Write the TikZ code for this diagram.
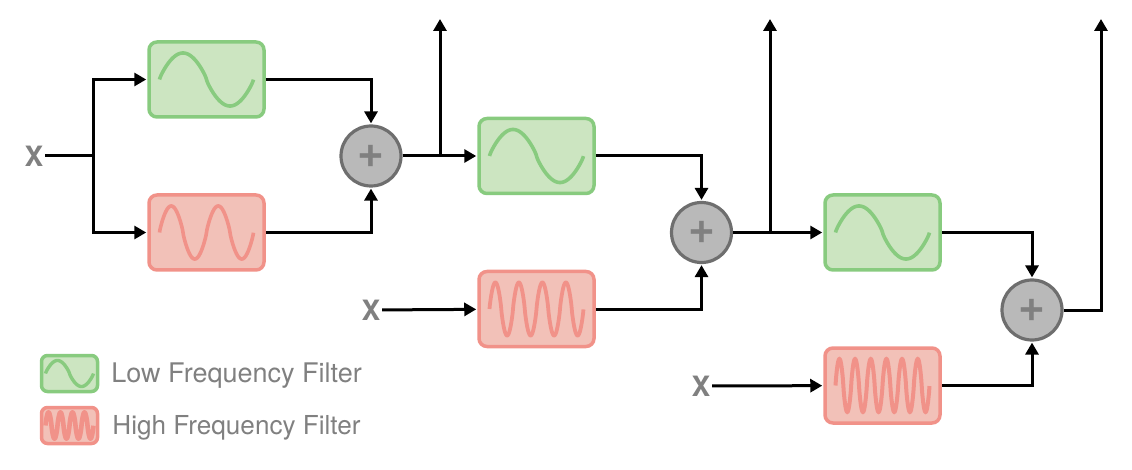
\documentclass[tikz,border=0pt]{standalone}
\usepackage{fontspec}
\setmainfont{TeX Gyre Heros}
\usepackage{xcolor}
\usetikzlibrary{arrows.meta,positioning}
\definecolor{lowline}{HTML}{88CB7F}
\definecolor{lowfill}{HTML}{CCE5C1}
\definecolor{highline}{HTML}{F19289}
\definecolor{highfill}{HTML}{F2C1B8}
\definecolor{sumline}{HTML}{6E6E6E}
\definecolor{sumfill}{HTML}{B9B9B9}
\definecolor{labelgray}{HTML}{808080}
% wave inside a box: node, half width, amplitude, cycles, colour, line width
\newcommand{\filterwave}[6]{
    \draw[#5, line width=#6pt] plot[domain=-1:1, samples=241, shift={(#1)}]
        (\x*#2, {-#3*sign(sin(\x*180*#4+180*#4))*pow(abs(sin(\x*180*#4+180*#4))+0.0001,0.82)});
}
\begin{document}
\begin{tikzpicture}[
    x=1pt, y=-1pt,
    node distance=74.5pt,
    filterbox/.style={rounded corners=8pt, line width=3.5pt, minimum width=115pt, minimum height=75pt},
    lowbox/.style={filterbox, draw=lowline, fill=lowfill},
    highbox/.style={filterbox, draw=highline, fill=highfill},
    legendbox/.style={rounded corners=6pt, line width=3.5pt, minimum width=56pt, minimum height=36pt},
    sumnode/.style={circle, draw=sumline, fill=sumfill, line width=3.2pt, minimum size=60pt, inner sep=0pt,
        text=labelgray, font=\bfseries\fontsize{46}{46}\selectfont},
    inputlabel/.style={text=labelgray, inner sep=1.5pt, font=\bfseries\fontsize{28}{28}\selectfont},
    legendtext/.style={text=labelgray, inner sep=0pt, yshift=-2.5pt},
    wire/.style={line width=3pt, line join=miter},
    arrow/.style={wire, -{Triangle[length=12pt, width=13pt]}, shorten >=1pt}
]
    \useasboundingbox (0,0) rectangle (1132,470);

    % Filters
    \node[lowbox] (lowA) at (206.5,79.5) {};
    \node[highbox, below=of lowA] (highA) {};
    \node[lowbox] (lowB) at (536.5,156) {};
    \node[highbox, below=of lowB] (highB) {};
    \node[lowbox] (lowC) at (882.5,232.5) {};
    \node[highbox, below=of lowC] (highC) {};

    \filterwave{lowA}{47}{26.5}{1}{lowline}{3.6}
    \filterwave{highA}{47}{26.5}{2}{highline}{3.6}
    \filterwave{lowB}{47}{26.5}{1}{lowline}{3.6}
    \filterwave{highB}{47}{26.5}{4}{highline}{3.8}
    \filterwave{lowC}{47}{26.5}{1}{lowline}{3.6}
    \filterwave{highC}{47}{26.5}{6}{highline}{4}

    % Adders and inputs
    \node[sumnode] (sumA) at (371,156) {+};
    \node[sumnode] (sumB) at (701.5,232.5) {+};
    \node[sumnode] (sumC) at (1032,310) {+};
    \node[inputlabel] (inA) at (34,156) {X};
    \node[inputlabel] (inB) at (371,310) {X};
    \node[inputlabel] (inC) at (701,386) {X};

    \coordinate (splitA) at (93,156);
    \coordinate (tapA) at (440,156);
    \coordinate (tapB) at (770,232.5);
    \coordinate (outA) at (440,18);
    \coordinate (outB) at (770,18);
    \coordinate (outC) at (1101,18);

    % First stage
    \draw[wire] (inA) -- (splitA);
    \draw[arrow] (splitA) |- (lowA);
    \draw[arrow] (splitA) |- (highA);
    \draw[arrow] (lowA) -| (sumA);
    \draw[arrow] (highA) -| (sumA);
    \draw[arrow] (sumA) -- (lowB);
    \draw[arrow] (tapA) -- (outA);

    % Second stage
    \draw[arrow] (inB) -- (highB);
    \draw[arrow] (lowB) -| (sumB);
    \draw[arrow] (highB) -| (sumB);
    \draw[arrow] (sumB) -- (lowC);
    \draw[arrow] (tapB) -- (outB);

    % Third stage
    \draw[arrow] (inC) -- (highC);
    \draw[arrow] (lowC) -| (sumC);
    \draw[arrow] (highC) -| (sumC);
    \draw[arrow] (sumC) -| (outC);

    % Legend
    \node[legendbox, draw=lowline, fill=lowfill] (legLow) at (69.5,373.5) {};
    \node[legendbox, draw=highline, fill=highfill] (legHigh) at (69.5,425.5) {};
    \filterwave{legLow}{24}{13}{1}{lowline}{3.4}
    \filterwave{legHigh}{24}{13}{4}{highline}{4.6}
    \node[legendtext, right=12pt of legLow, font=\fontsize{27}{30}\selectfont] (legLowText) {Low Frequency Filter};
    \node[legendtext, right=13pt of legHigh, font=\fontsize{26.1}{30}\selectfont] (legHighText) {High Frequency Filter};
\end{tikzpicture}
\end{document}
